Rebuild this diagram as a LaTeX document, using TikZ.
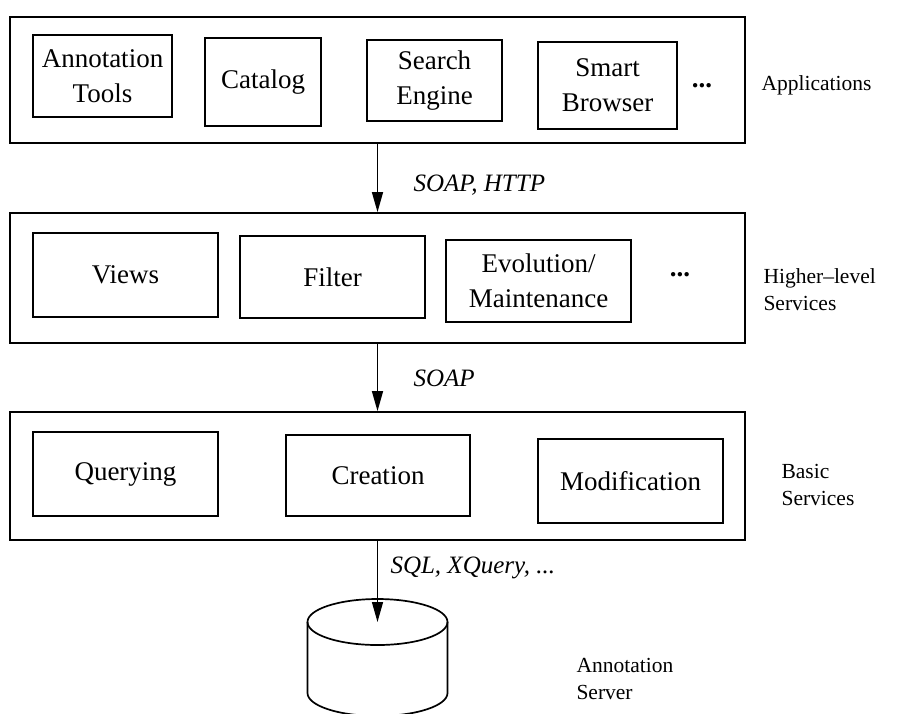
\documentclass[tikz,border=0pt]{standalone}
\usepackage{fontspec}
\setmainfont{Liberation Serif}
\usetikzlibrary{arrows.meta}
\begin{document}
\begin{tikzpicture}[x=1pt,y=-1pt,
  layer/.style={draw, line width=1.8pt, inner sep=0pt},
  box/.style={draw, line width=1.7pt, align=center, inner sep=0pt,
              font=\fontsize{27}{35}\selectfont},
  dots/.style={font=\fontsize{27}{35}\selectfont\bfseries},
  side/.style={anchor=west, align=left, font=\fontsize{21.5}{27}\selectfont},
  proto/.style={anchor=west, font=\fontsize{25}{30}\selectfont\itshape},
  flow/.style={line width=1.4pt, -{Triangle[length=20pt,width=11pt]}},
  drum/.style={line width=1.7pt}]
\useasboundingbox (0,0) rectangle (901,713);

% layer frames
\node[layer, minimum width=735, minimum height=126] (apps)  at (377.5,80)  {};
\node[layer, minimum width=735, minimum height=130] (hls)   at (377.5,278) {};
\node[layer, minimum width=735, minimum height=128] (basic) at (377.5,476) {};

% applications
\node[box, minimum width=139, minimum height=82] (annot)   at (102.5,76)  {Annotation\\Tools};
\node[box, minimum width=116, minimum height=88] (catalog) at (263,82)    {Catalog};
\node[box, minimum width=135, minimum height=81] (search)  at (434.5,80.5){Search\\Engine};
\node[box, minimum width=139, minimum height=87] (smart)   at (607.5,85.5){Smart\\Browser};
\node[dots] (appdots) at (702,86) {...};
\node[side] (applbl) at (758,85) {Applications};

% higher-level services
\node[box, minimum width=185, minimum height=84] (views)  at (125.5,275) {Views};
\node[box, minimum width=185, minimum height=82] (filter) at (332.5,277) {Filter};
\node[box, minimum width=185, minimum height=82] (evol)   at (538.5,281) {Evolution/\\Maintenance};
\node[dots] (hlsdots) at (680,275) {...};
\node[side] (hlslbl) at (760,290) {Higher--level\\Services};

% basic services
\node[box, minimum width=185, minimum height=84] (query)  at (125.5,474) {Querying};
\node[box, minimum width=184, minimum height=81] (create) at (378,475.5) {Creation};
\node[box, minimum width=185, minimum height=84] (modify) at (630.5,481) {Modification};
\node[side] (baslbl) at (778,485) {Basic\\Services};

% annotation server store
\draw[drum] (377.5,622) ellipse [x radius=70, y radius=23];
\draw[drum] (307.5,622) -- (307.5,693) arc[start angle=180, end angle=0, x radius=70, y radius=23] -- (447.5,622);
\coordinate (dbtop) at (377.5,622);
\node[side] (dblbl) at (573,679) {Annotation\\Server};

% protocol connectors
\draw[flow] (apps.south) -- (hls.north);
\node[proto] (p1) at (410,185) {SOAP, HTTP};
\draw[flow] (hls.south) -- (basic.north);
\node[proto] (p2) at (410,378) {SOAP};
\draw[flow] (basic.south) -- (dbtop);
\node[proto] (p3) at (387,568) {SQL, XQuery, ...};
\end{tikzpicture}
\end{document}
